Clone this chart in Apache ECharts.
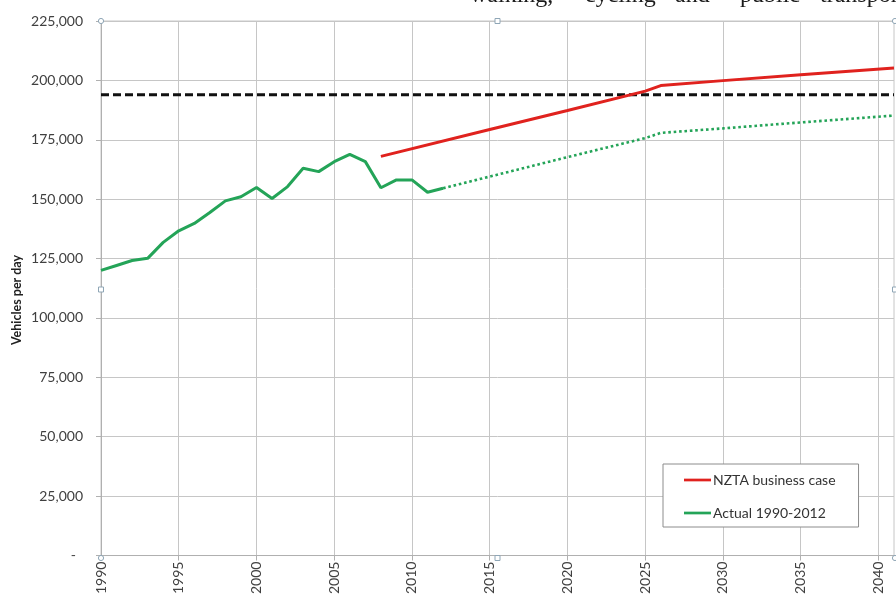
<!DOCTYPE html>
<html>
<head>
<meta charset="utf-8">
<script src="https://cdn.jsdelivr.net/npm/echarts@6/dist/echarts.min.js"></script>
<style>
  html, body { margin: 0; padding: 0; background: #ffffff; }
  #chart { width: 896px; height: 597px; }
</style>
</head>
<body>
<div id="chart"></div>
<script>
// Year categories along the x axis
const years = Array.from({ length: 52 }, (_, i) => String(1990 + i));

// Observed daily traffic, 1990-2012
const actualYears = ['1990','1991','1992','1993','1994','1995','1996','1997','1998','1999','2000',
  '2001','2002','2003','2004','2005','2006','2007','2008','2009','2010','2011','2012'];
const actualValues = [120000, 122100, 124200, 125100, 131800, 136700, 139800, 144400, 149300, 151000, 154900,
  150300, 155300, 163000, 161600, 165800, 168900, 165800, 154800, 158100, 158100, 152900, 154600];

// Continuation of the observed trend (dotted)
const trendYears = ['2012', '2020', '2025', '2026', '2030', '2035', '2041'];
const trendValues = [154600, 167700, 175700, 177900, 179800, 182300, 185200];

// NZTA business case forecast
const nztaYears = ['2008', '2015', '2020', '2025', '2026', '2030', '2035', '2041'];
const nztaValues = [168000, 179300, 187300, 195500, 197800, 199900, 202400, 205200];

// Capacity reference line
const capacityYears = ['1990', '2041'];
const capacityValues = [194000, 194000];

const pairs = (xs, vs) => xs.map((x, i) => [x, vs[i]]);

const GREEN = '#24a458';
const RED = '#e0221e';
const GRID_COLOR = '#c6c6c6';
const LABEL_FONT = 'Lato, "Open Sans", sans-serif';
// Flat bar used as the legend key, drawn like a short line sample
const LINE_KEY = 'path://M0,0L30,0L30,3L0,3Z';

const plot = { left: 101, top: 21, right: 894, bottom: 558 };

function handle(x, y, round) {
  return round
    ? { type: 'circle', shape: { cx: x, cy: y, r: 2.6 }, style: { fill: '#fff', stroke: '#8fa6b6', lineWidth: 1 }, z: 100 }
    : { type: 'rect', shape: { x: x - 2.5, y: y - 2.5, width: 5, height: 5 }, style: { fill: '#fff', stroke: '#8fa6b6', lineWidth: 1 }, z: 100 };
}
const midX = (plot.left + plot.right) / 2;
const midY = (plot.top + plot.bottom) / 2;

// Words of the surrounding body text line above the chart
const headWords = [
  { t: 'walking,', x: 470 },
  { t: 'cycling', x: 585 },
  { t: 'and', x: 675 },
  { t: 'public', x: 740 },
  { t: 'transport', x: 820 }
];

const chart = echarts.init(document.getElementById('chart'), null, { renderer: 'canvas' });

chart.setOption({
  animation: false,
  backgroundColor: '#ffffff',
  grid: {
    left: plot.left, top: plot.top, right: 896 - plot.right, bottom: 597 - plot.bottom,
    show: true, borderColor: GRID_COLOR, borderWidth: 1
  },
  legend: {
    orient: 'vertical',
    left: 663, top: 464,
    padding: [9, 23, 7, 21],
    itemWidth: 27, itemHeight: 3, itemGap: 19,
    backgroundColor: '#ffffff',
    borderColor: '#8c8c8c', borderWidth: 1,
    textStyle: { fontFamily: LABEL_FONT, fontSize: 14, color: '#333333', padding: [0, 0, 0, -3] },
    data: [
      { name: 'NZTA business case', icon: LINE_KEY },
      { name: 'Actual 1990-2012', icon: LINE_KEY }
    ]
  },
  xAxis: {
    type: 'category',
    data: years,
    boundaryGap: false,
    axisLine: { lineStyle: { color: '#b0b0b0', width: 1 } },
    axisTick: { show: true, length: 5, interval: (i) => i % 5 === 0, lineStyle: { color: '#b0b0b0' } },
    splitLine: { show: true, interval: (i) => i % 5 === 0, lineStyle: { color: GRID_COLOR, width: 1 } },
    axisLabel: {
      interval: (i) => i % 5 === 0,
      rotate: 90, margin: 6,
      fontFamily: LABEL_FONT, fontSize: 14, color: '#404040'
    }
  },
  yAxis: {
    type: 'value',
    min: 0, max: 225000, interval: 25000,
    axisLine: { show: true, lineStyle: { color: '#b0b0b0', width: 1 } },
    axisTick: { show: true, length: 5, lineStyle: { color: '#b0b0b0' } },
    splitLine: { show: true, lineStyle: { color: GRID_COLOR, width: 1 } },
    axisLabel: {
      margin: 18,
      fontFamily: LABEL_FONT, fontSize: 14, color: '#404040',
      formatter: (v) => v === 0 ? '-  ' : v.toLocaleString('en-US')
    }
  },
  graphic: [
    {
      type: 'text', x: 17, y: 300, rotation: Math.PI / 2,
      style: {
        text: 'Vehicles per day', fill: '#222222',
        font: 'bold 12.5px Lato, "Open Sans", sans-serif',
        align: 'center', verticalAlign: 'middle'
      }
    },
    ...headWords.map((w) => ({
      type: 'text', x: w.x, y: -4,
      style: {
        text: w.t, fill: '#1a1a1a',
        font: '24px "Liberation Serif", "DejaVu Serif", serif',
        align: 'left', verticalAlign: 'middle'
      }
    })),
    handle(plot.left, plot.top, true),
    handle(plot.right + 1, plot.top, true),
    handle(plot.left, plot.bottom, true),
    handle(plot.right + 1, plot.bottom, true),
    handle(midX, plot.top, false),
    handle(midX, plot.bottom, false),
    handle(plot.left, midY, false),
    handle(plot.right + 1, midY, false)
  ],
  series: [
    {
      name: 'Capacity',
      type: 'line',
      data: pairs(capacityYears, capacityValues),
      symbol: 'none',
      lineStyle: { color: '#111111', width: 3, type: [8, 4] },
      z: 2
    },
    {
      name: 'Trend',
      type: 'line',
      data: pairs(trendYears, trendValues),
      symbol: 'none',
      lineStyle: { color: GREEN, width: 2.6, type: [2.6, 2.8], cap: 'butt' },
      z: 3
    },
    {
      name: 'Actual 1990-2012',
      type: 'line',
      data: pairs(actualYears, actualValues),
      symbol: 'none',
      itemStyle: { color: GREEN },
      lineStyle: { color: GREEN, width: 3 },
      z: 4
    },
    {
      name: 'NZTA business case',
      type: 'line',
      data: pairs(nztaYears, nztaValues),
      symbol: 'none',
      itemStyle: { color: RED },
      lineStyle: { color: RED, width: 3 },
      z: 4
    }
  ]
});
</script>
</body>
</html>
